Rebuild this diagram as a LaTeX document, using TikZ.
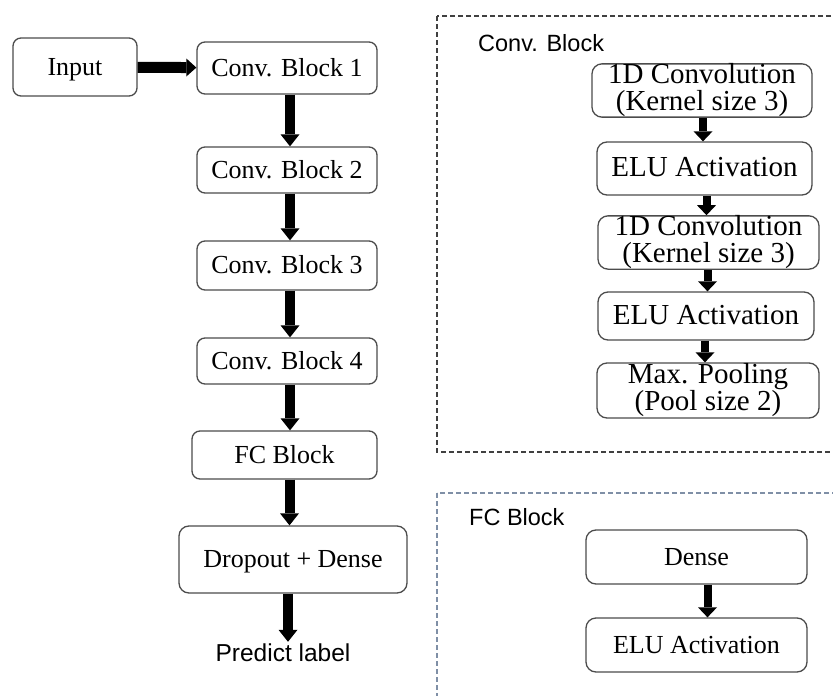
\documentclass[tikz,border=0pt]{standalone}
\usepackage{fontspec}
\setmainfont{Liberation Serif}
\setsansfont{Liberation Sans}
\usetikzlibrary{arrows.meta}
\definecolor{fcblue}{HTML}{7F8FA6}

\begin{document}
\begin{tikzpicture}[x=1pt,y=-1pt]
    \tikzstyle{blk} = [draw=black!70,line width=1.3pt,rounded corners=8pt,inner sep=0pt,font=\fontsize{26}{28}\selectfont]
    \tikzstyle{one} = [text height=19pt,text depth=3pt]
    \tikzstyle{sub} = [blk,rounded corners=10pt,align=center,font=\fontsize{29}{27}\selectfont]
    \tikzstyle{lab} = [inner sep=2pt,font=\sffamily\fontsize{23.5}{26}\selectfont]
    \tikzstyle{bigarr} = [draw,line width=10pt,-{Triangle[length=12pt,width=19pt,line width=0pt]}]
    \tikzstyle{arr} = [draw,line width=8pt,-{Triangle[length=10pt,width=19pt,line width=0pt]}]
    \tikzstyle{frame} = [dash pattern=on 5pt off 3pt,line width=1.1pt]
    \clip (0,0) rectangle (833,696);
    % main chain
    \node [blk,one,minimum width=124pt,minimum height=58pt] (in) at (75,67) {Input};
    \node [blk,one,minimum width=180pt,minimum height=52pt] (cb1) at (287,68) {Conv. Block 1};
    \node [blk,one,minimum width=180pt,minimum height=46pt] (cb2) at (287,170) {Conv. Block 2};
    \node [blk,one,minimum width=180pt,minimum height=49pt] (cb3) at (287,265.5) {Conv. Block 3};
    \node [blk,one,minimum width=180pt,minimum height=46pt] (cb4) at (287,361) {Conv. Block 4};
    \node [blk,one,minimum width=185pt,minimum height=48pt] (fc) at (284.5,455) {FC Block};
    \node [blk,one,minimum width=228pt,minimum height=67pt,rounded corners=10pt] (drop) at (293,559.5) {Dropout + Dense};
    \node [lab,font=\sffamily\fontsize{24.5}{26}\selectfont] (pred) at (283,653) {Predict label};
    \path [draw,line width=11pt,-{Triangle[length=10pt,width=18pt,line width=0pt]}] (in) to (cb1);
    \path [bigarr] ([xshift=3pt]cb1.south) to ([xshift=3pt]cb1.south |- cb2.north);
    \path [bigarr] ([xshift=3pt]cb2.south) to ([xshift=3pt]cb2.south |- cb3.north);
    \path [bigarr] ([xshift=3pt]cb3.south) to ([xshift=3pt]cb3.south |- cb4.north);
    \path [bigarr] ([xshift=3pt]cb4.south) to ([xshift=3pt]cb4.south |- fc.north);
    \path [bigarr] ([xshift=5pt]fc.south) to ([xshift=5pt]fc.south |- drop.north);
    \path [bigarr] ([xshift=-5pt]drop.south) to ([xshift=-5pt]drop.south |- pred.north);
    % conv block detail
    \draw [frame,draw=black!75] (437,16) rectangle (850,452);
    \node [lab,anchor=west] (convlab) at (476,43) {Conv. Block};
    \node [sub,minimum width=220pt,minimum height=53pt] (c1) at (702,90.5) {1D Convolution\\(Kernel size 3)};
    \node [sub,one,minimum width=215pt,minimum height=53pt] (c2) at (704.5,168.5) {ELU Activation};
    \node [sub,minimum width=221pt,minimum height=51pt] (c3) at (708.5,242.5) {1D Convolution\\(Kernel size 3)};
    \node [sub,one,minimum width=216pt,minimum height=48pt] (c4) at (706,316) {ELU Activation};
    \node [sub,minimum width=222pt,minimum height=55pt] (c5) at (708,390.5) {Max. Pooling\\(Pool size 2)};
    \path [arr] ([xshift=1pt]c1.south) to ([xshift=1pt]c1.south |- c2.north);
    \path [arr] ([xshift=2pt]c2.south) to ([xshift=2pt]c2.south |- c3.north);
    \path [arr] ([xshift=-1pt]c3.south) to ([xshift=-1pt]c3.south |- c4.north);
    \path [arr] ([xshift=-1pt]c4.south) to ([xshift=-1pt]c4.south |- c5.north);
    % fc block detail
    \draw [frame,draw=fcblue] (437,493) rectangle (850,720);
    \node [lab,anchor=west] (fclab) at (467,517) {FC Block};
    \node [sub,one,minimum width=221pt,minimum height=54pt,font=\fontsize{26}{28}\selectfont] (dense) at (696.5,557) {Dense};
    \node [sub,one,minimum width=221pt,minimum height=54pt,font=\fontsize{26}{28}\selectfont] (fcelu) at (696.5,645) {ELU Activation};
    \path [arr] ([xshift=11pt]dense.south) to ([xshift=11pt]dense.south |- fcelu.north);
\end{tikzpicture}
\end{document}
